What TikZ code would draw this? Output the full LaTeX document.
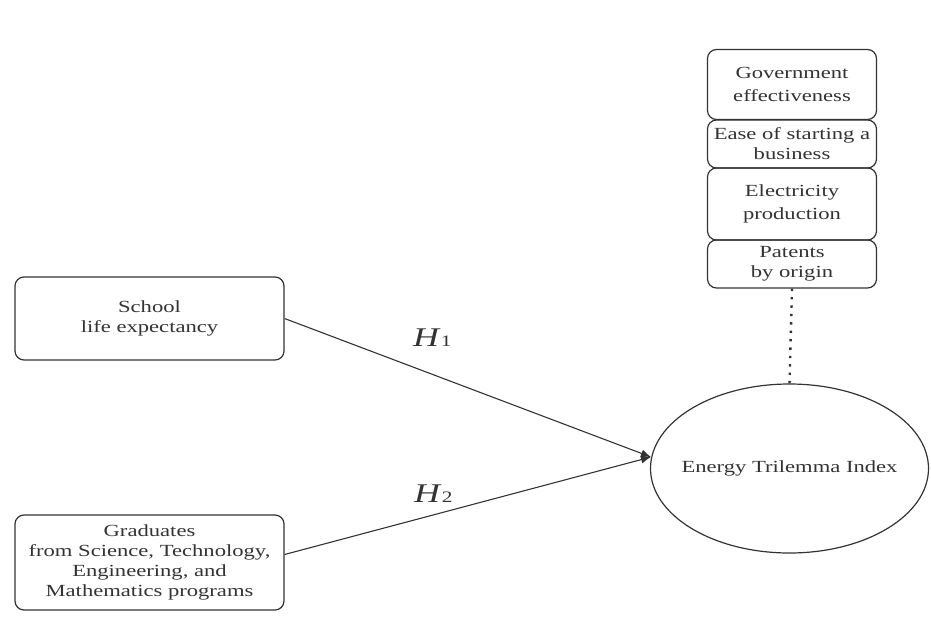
\documentclass[tikz,border=0pt]{standalone}
\usepackage{fontspec}
\setmainfont{Liberation Serif}[FakeStretch=1.33]
\usetikzlibrary{shapes.geometric,arrows.meta}
\definecolor{ink}{HTML}{333333}
\tikzset{
  box/.style={draw=ink, line width=1.2pt, rounded corners=9pt, align=center, inner sep=0pt,
    font=\fontsize{17}{20}\selectfont, text=ink},
  link/.style={draw=ink, line width=1.1pt, -{Latex[length=10pt,width=8pt]}},
  hyp/.style={anchor=base west, inner sep=0pt, text=ink}
}
\begin{document}
\begin{tikzpicture}[x=1pt,y=-1pt]
\useasboundingbox (0,0) rectangle (931,621);
% indicator boxes
\node[box, minimum width=169pt, minimum height=70pt] (gov) at (792,84.5) {Government\\[3pt]effectiveness};
\node[box, minimum width=169pt, minimum height=48pt] (ease) at (792,144) {Ease of starting a\\business};
\node[box, minimum width=169pt, minimum height=72pt] (elec) at (792,204) {Electricity\\[3pt]production};
\node[box, minimum width=169pt, minimum height=48pt] (pat) at (792,264) {Patents\\by origin};
% ellipse
\node[draw=ink, line width=1.2pt, ellipse, minimum width=278pt, minimum height=169pt, inner sep=0pt,
  font=\fontsize{17}{20}\selectfont, text=ink] (eti) at (789.5,468.5) {\makebox[0pt]{Energy Trilemma Index}};
% left boxes
\node[box, minimum width=269pt, minimum height=83pt] (sch) at (149.5,318.5) {School\\life expectancy};
\node[box, minimum width=269pt, minimum height=95pt] (gra) at (149.5,562.5) {Graduates\\from Science, Technology,\\Engineering, and\\Mathematics programs};
% connectors
\coordinate (tip) at (651,457);
\draw[link] (sch.east) -- (tip);
\draw[link] ([yshift=8pt]gra.east) -- (tip);
\draw[draw=ink, line width=2.4pt, dash pattern=on 2.4pt off 6pt] (pat.south) -- (eti.north);
% hypothesis labels
\node[hyp] (h1) at (413,346) {\fontsize{27}{27}\selectfont\textit{H}\fontsize{16}{16}\selectfont 1};
\node[hyp] (h2) at (414,502) {\fontsize{27}{27}\selectfont\textit{H}\fontsize{16}{16}\selectfont 2};
\end{tikzpicture}
\end{document}
